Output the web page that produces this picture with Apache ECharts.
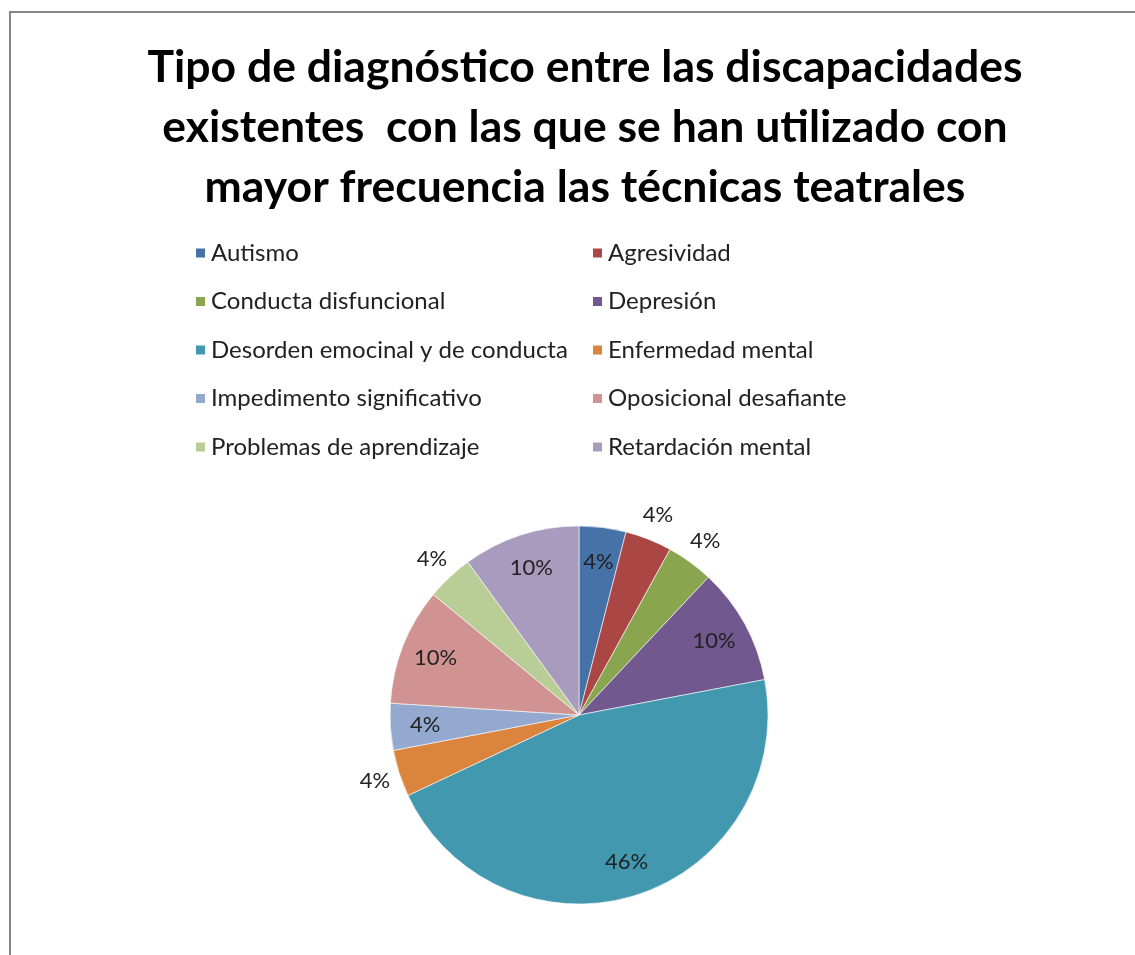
<!DOCTYPE html>
<html>
<head>
<meta charset="utf-8">
<script src="https://cdn.jsdelivr.net/npm/echarts@6/dist/echarts.min.js"></script>
<style>
  html, body { margin: 0; padding: 0; background: #fff; }
  #chart { width: 1135px; height: 955px; }
</style>
</head>
<body>
<div id="chart"></div>
<script>
// data (percent of cases)
var categories = [
    "Autismo", "Agresividad", "Conducta disfuncional", "Depresión",
    "Desorden emocinal y de conducta", "Enfermedad mental",
    "Impedimento significativo", "Oposicional desafiante",
    "Problemas de aprendizaje", "Retardación mental"
];
var values = [4, 4, 4, 10, 46, 4, 4, 10, 4, 10];
var colors = [
    "#4572A7", "#AA4643", "#89A54E", "#71588F", "#4198AF",
    "#DB843D", "#93A9CF", "#D19392", "#B9CD96", "#A99BBD"
];
// where excel put each data label ("best fit")
var labelOutside = [false, true, true, false, false, true, false, false, true, false];

var chart = echarts.init(document.getElementById("chart"));

var font = "Lato, 'Open Sans', sans-serif";
var cx = 579, cy = 715, R = 189;

function pieData(show) {
    return categories.map(function (name, i) {
        return {
            name: name,
            value: values[i],
            label: { show: show(i) }
        };
    });
}

function labelSeries(radius, show) {
    return {
        type: "pie",
        silent: true,
        center: [cx, cy],
        radius: radius,
        startAngle: 90,
        clockwise: true,
        avoidLabelOverlap: false,
        itemStyle: { color: "transparent", borderWidth: 0 },
        emphasis: { disabled: true },
        label: {
            position: "inside",
            formatter: "{d}%",
            fontFamily: font,
            fontSize: 22,
            color: "#222"
        },
        labelLine: { show: false },
        data: pieData(show)
    };
}

var option = {
    backgroundColor: "#fff",
    color: colors,
    animation: false,
    title: {
        text: "Tipo de diagnóstico entre las discapacidades\nexistentes  con las que se han utilizado con\nmayor frecuencia las técnicas teatrales",
        left: 580,
        top: 33,
        textAlign: "center",
        textStyle: {
            fontFamily: font,
            fontWeight: "bold",
            fontSize: 44.5,
            lineHeight: 60,
            color: "#000"
        }
    },
    legend: [0, 1].map(function (col) {
        return {
            orient: "vertical",
            left: col === 0 ? 189 : 586,
            top: 236,
            icon: "rect",
            itemWidth: 11,
            itemHeight: 11,
            itemGap: 24.5,
            textStyle: { fontFamily: font, fontSize: 24, color: "#222", lineHeight: 24 },
            data: categories.filter(function (c, i) { return i % 2 === col; })
        };
    }),
    graphic: [{
        type: "rect",
        shape: { x: 10, y: 12, width: 1200, height: 1000 },
        style: { fill: "none", stroke: "#878787", lineWidth: 2 },
        silent: true
    }],
    series: [
        {
            type: "pie",
            center: [cx, cy],
            radius: R,
            startAngle: 90,
            clockwise: true,
            label: { show: false },
            labelLine: { show: false },
            itemStyle: { borderColor: "#fff", borderWidth: 0.6 },
            data: pieData(function () { return false; })
        },
        labelSeries([R * 0.6, R], function (i) { return !labelOutside[i]; }),
        labelSeries([R * 1.06, R * 1.18], function (i) { return labelOutside[i]; })
    ]
};

chart.setOption(option);
</script>
</body>
</html>
